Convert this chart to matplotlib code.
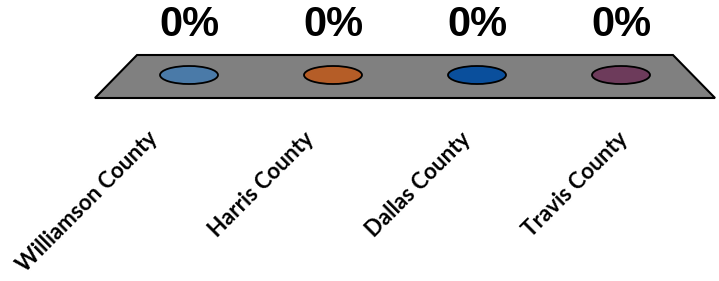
"""
Zero-height 3D-style column chart: share of cases by county.
"""

import matplotlib.pyplot as plt
from matplotlib.patches import Ellipse, Polygon

counties = ["Williamson County", "Harris County", "Dallas County", "Travis County"]
shares = [0.0, 0.0, 0.0, 0.0]
colors = ["#4a7aa8", "#b55d27", "#0a4f9c", "#6d3b5b"]

# y axis runs in pixels from the top, x in category units
FLOOR_Y = 75
BAR_SCALE = 40

fig = plt.figure(figsize=(7.19, 2.81), dpi=100)
ax = fig.add_axes([0, 0, 1, 1])
ax.set_xlim(-189 / 144, (719 - 189) / 144)
ax.set_ylim(281, 0)
ax.axis("off")

# floor of the 3D plot
n = len(counties)
mid = (n - 1) / 2
back, front = 1.861, 2.153
floor = Polygon(
    [(mid - back, 55), (mid + back, 55), (mid + front, 98), (mid - front, 98)],
    closed=True, facecolor="#808080", edgecolor="black", linewidth=1.5, zorder=1,
)
ax.add_patch(floor)

for i, (name, val, col) in enumerate(zip(counties, shares, colors)):
    top = FLOOR_Y - val * BAR_SCALE
    ax.add_patch(Ellipse((i, top), 58 / 144, 18, facecolor=col,
                         edgecolor="black", linewidth=1.3, zorder=2))
    ax.text(i, top - 50, f"{val:.0%}", ha="center", va="center",
            fontsize=30, fontweight="bold", family="Liberation Sans", zorder=3)
    # labels sit along the front edge, spread a little wider (perspective)
    lx = mid + (i - mid) * 1.088 - 0.16
    ax.text(lx, 128, name, rotation=45, rotation_mode="anchor",
            ha="right", va="top", fontsize=16, fontweight="bold", family="Lato")

fig.savefig("out.png", dpi=100)
